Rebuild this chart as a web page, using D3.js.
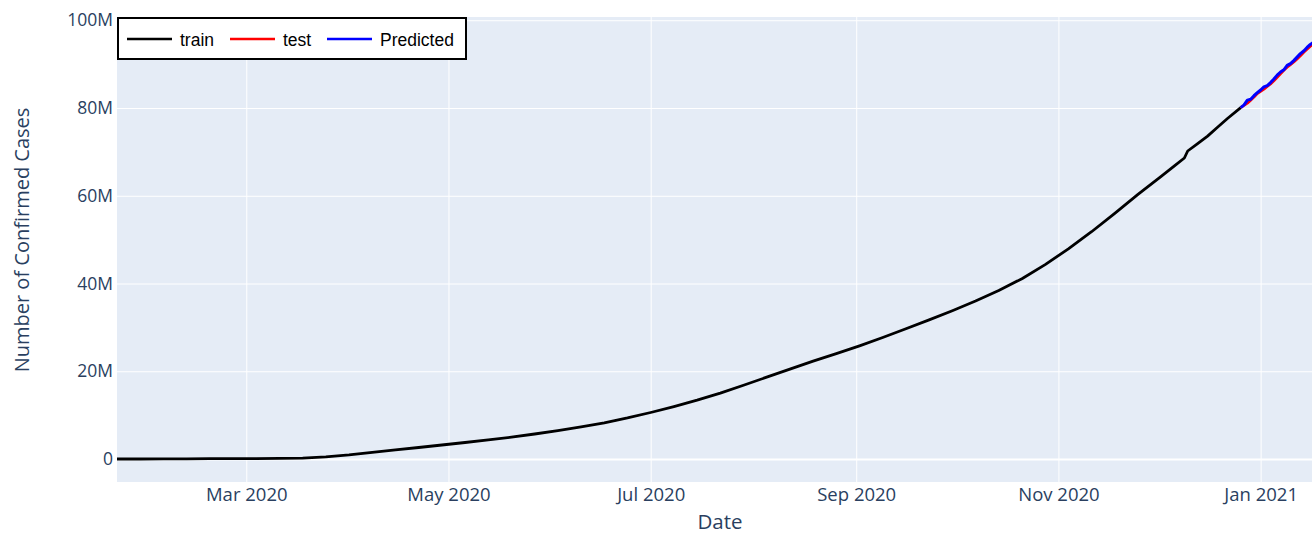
<!DOCTYPE html>
<html>
<head>
<meta charset="utf-8">
<script src="https://cdn.jsdelivr.net/npm/d3@7"></script>
<style>
  html, body { margin: 0; padding: 0; background: #fff; }
  svg { display: block; }
</style>
</head>
<body>
<svg id="chart" width="1312" height="534"></svg>
<script>
// Global cumulative confirmed cases (millions), training period
const trainDates = [
  "2020-01-22","2020-01-29","2020-02-05","2020-02-12","2020-02-19","2020-02-26",
  "2020-03-04","2020-03-11","2020-03-18","2020-03-25","2020-04-01","2020-04-08",
  "2020-04-15","2020-04-22","2020-04-29","2020-05-06","2020-05-13","2020-05-20",
  "2020-05-27","2020-06-03","2020-06-10","2020-06-17","2020-06-24","2020-07-01",
  "2020-07-08","2020-07-15","2020-07-22","2020-07-29","2020-08-05","2020-08-12",
  "2020-08-19","2020-08-26","2020-09-02","2020-09-09","2020-09-16","2020-09-23",
  "2020-09-30","2020-10-07","2020-10-14","2020-10-21","2020-10-28","2020-11-04",
  "2020-11-11","2020-11-18","2020-11-25","2020-12-02","2020-12-06","2020-12-09",
  "2020-12-10","2020-12-13","2020-12-16","2020-12-19","2020-12-22","2020-12-26"
];
const trainValues = [
  0.0006, 0.006, 0.028, 0.045, 0.076, 0.081,
  0.095, 0.126, 0.215, 0.468, 0.93, 1.52,
  2.06, 2.62, 3.19, 3.76, 4.34, 4.97,
  5.70, 6.48, 7.33, 8.25, 9.35, 10.6,
  11.95, 13.4, 15.0, 16.8, 18.65, 20.5,
  22.3, 24.0, 25.8, 27.7, 29.7, 31.7,
  33.8, 36.0, 38.4, 41.1, 44.3, 47.9,
  51.8, 56.0, 60.3, 64.4, 66.8, 68.6,
  70.2, 71.9, 73.6, 75.6, 77.6, 80.1
];

// Held-out period: observed values and model predictions (millions)
const testDates = [
  "2020-12-26","2020-12-27","2020-12-28","2020-12-29","2020-12-30","2020-12-31",
  "2021-01-01","2021-01-02","2021-01-03","2021-01-04","2021-01-05","2021-01-06",
  "2021-01-07","2021-01-08","2021-01-09","2021-01-10","2021-01-11","2021-01-12",
  "2021-01-13","2021-01-14","2021-01-15","2021-01-16","2021-01-17"
];
const testValues = [
  80.1, 80.6, 81.1, 81.8, 82.5, 83.3,
  83.8, 84.3, 84.9, 85.5, 86.2, 87.0,
  87.8, 88.6, 89.3, 89.9, 90.5, 91.2,
  91.9, 92.7, 93.4, 94.1, 94.6
];
const predValues = [
  80.1, 80.7, 81.8, 82.0, 82.8, 83.5,
  84.1, 84.8, 85.1, 85.8, 86.6, 87.5,
  88.2, 88.7, 89.7, 90.1, 90.8, 91.6,
  92.4, 93.0, 93.8, 94.5, 95.0
];

const yTicks = [0, 20, 40, 60, 80, 100];
const xTickDates = ["2020-03-01","2020-05-01","2020-07-01","2020-09-01","2020-11-01","2021-01-01"];
const seriesNames = ["train", "test", "Predicted"];
const seriesColors = ["#000000", "#ff0000", "#0000ff"];

const parse = d3.utcParse("%Y-%m-%d");
const svg = d3.select("#chart");

const plot = { left: 117, right: 1312, top: 17, bottom: 482 };

const x = d3.scaleUtc()
  .domain([parse("2020-01-22"), new Date(Date.UTC(2021, 0, 16, 12))])
  .range([plot.left, plot.right]);

const y = d3.scaleLinear()
  .domain([-5.24, 100.74])
  .range([plot.bottom, plot.top]);

// plot background
svg.append("rect")
  .attr("x", plot.left).attr("y", plot.top)
  .attr("width", plot.right - plot.left).attr("height", plot.bottom - plot.top)
  .attr("fill", "#e5ecf6");

svg.append("clipPath").attr("id", "plotclip")
  .append("rect")
  .attr("x", plot.left).attr("y", plot.top)
  .attr("width", plot.right - plot.left).attr("height", plot.bottom - plot.top);

// vertical grid
svg.append("g")
  .attr("transform", `translate(0,${plot.bottom})`)
  .call(d3.axisBottom(x).tickValues(xTickDates.map(parse)).tickSize(-(plot.bottom - plot.top)).tickFormat(""))
  .call(g => g.select(".domain").remove())
  .call(g => g.selectAll("line").attr("stroke", "#fff").attr("stroke-width", 1));

// horizontal grid
svg.append("g")
  .attr("transform", `translate(${plot.left},0)`)
  .call(d3.axisLeft(y).tickValues(yTicks).tickSize(-(plot.right - plot.left)).tickFormat(""))
  .call(g => g.select(".domain").remove())
  .call(g => g.selectAll("line")
    .attr("stroke", "#fff")
    .attr("stroke-width", d => d === 0 ? 2 : 1));

// tick labels
svg.append("g")
  .attr("transform", `translate(0,${plot.bottom})`)
  .call(d3.axisBottom(x)
    .tickValues(xTickDates.map(parse))
    .tickFormat(d3.utcFormat("%b %Y"))
    .tickSize(0)
    .tickPadding(6))
  .call(g => g.select(".domain").remove())
  .call(g => g.selectAll("text")
    .attr("fill", "#2a3f5f")
    .style("font-family", "'Open Sans', sans-serif")
    .style("font-size", "18.5px"));

svg.append("g")
  .attr("transform", `translate(${plot.left},0)`)
  .call(d3.axisLeft(y).tickValues(yTicks).tickSize(0).tickPadding(4)
    .tickFormat(d => d === 0 ? "0" : d + "M"))
  .call(g => g.select(".domain").remove())
  .call(g => g.selectAll("text")
    .attr("fill", "#2a3f5f")
    .style("font-family", "'Open Sans', sans-serif")
    .style("font-size", "17.5px"));

// axis titles
svg.append("text")
  .attr("x", 720)
  .attr("y", 529)
  .attr("text-anchor", "middle")
  .attr("fill", "#2a3f5f")
  .style("font-family", "'Open Sans', sans-serif")
  .style("font-size", "20.5px")
  .text("Date");

svg.append("text")
  .attr("transform", `translate(29,240) rotate(-90)`)
  .attr("text-anchor", "middle")
  .attr("fill", "#2a3f5f")
  .style("font-family", "'Open Sans', sans-serif")
  .style("font-size", "20px")
  .text("Number of Confirmed Cases");

// series
const line = d3.line()
  .x(d => x(d.date))
  .y(d => y(d.value));

const trainData = trainDates.map((d, i) => ({ date: parse(d), value: trainValues[i] }));
const testData = testDates.map((d, i) => ({ date: parse(d), value: testValues[i] }));
const predData = testDates.map((d, i) => ({ date: parse(d), value: predValues[i] }));

const lines = svg.append("g").attr("clip-path", "url(#plotclip)");
lines.append("path").datum(trainData)
  .attr("d", line).attr("fill", "none")
  .attr("stroke", seriesColors[0]).attr("stroke-width", 2.8)
  .attr("stroke-linejoin", "round");
lines.append("path").datum(testData)
  .attr("d", line).attr("fill", "none")
  .attr("stroke", seriesColors[1]).attr("stroke-width", 2.8)
  .attr("stroke-linejoin", "round");
lines.append("path").datum(predData)
  .attr("d", line).attr("fill", "none")
  .attr("stroke", seriesColors[2]).attr("stroke-width", 3)
  .attr("stroke-linejoin", "round");

// legend
const legend = svg.append("g");
legend.append("rect")
  .attr("x", 118).attr("y", 18)
  .attr("width", 348).attr("height", 41)
  .attr("fill", "#fff")
  .attr("stroke", "#000").attr("stroke-width", 2);

const itemX = [127, 230, 327];
seriesNames.forEach((name, i) => {
  legend.append("line")
    .attr("x1", itemX[i]).attr("x2", itemX[i] + 45)
    .attr("y1", 39).attr("y2", 39)
    .attr("stroke", seriesColors[i]).attr("stroke-width", 2.6);
  legend.append("text")
    .attr("x", itemX[i] + 53).attr("y", 45.5)
    .attr("fill", "#000")
    .style("font-family", "'Liberation Sans', Arial, sans-serif")
    .style("font-size", "17.5px")
    .text(name);
});
</script>
</body>
</html>
